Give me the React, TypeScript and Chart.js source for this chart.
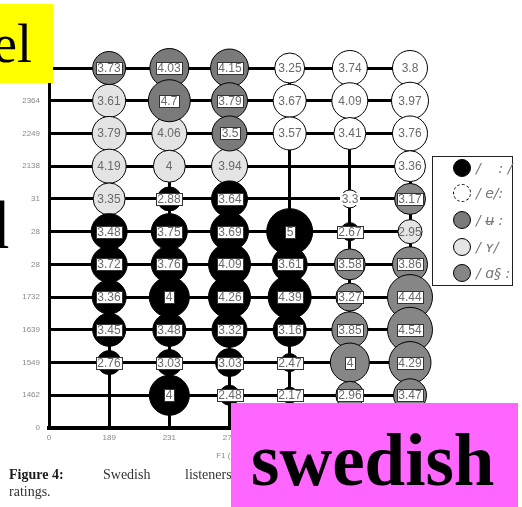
import React, { useEffect, useRef } from "react";
import { Chart, registerables } from "chart.js";

Chart.register(...registerables);

// ---- data ----
const COL_LABELS = ["0", "189", "231", "273", "315", "357", "399"];
const ROW_LABELS = ["0", "1462", "1549", "1639", "1732", "28", "28", "31", "2138", "2249", "2364", "2479"];

const VOWELS = ["/    : /", "/ e/:", "/ ʉ :", "/ ʏ/", "/ ɑ§ :"];
const VOWEL_COLORS = ["#000000", "#ffffff", "#7a7a7a", "#e4e4e4", "#868686"];

// goodness ratings, rows listed from the top row (2479) down to 1462; columns 189..399
const RATINGS: (number | null)[][] = [
  [3.73, 4.03, 4.15, 3.25, 3.74, 3.8],
  [3.61, 4.7, 3.79, 3.67, 4.09, 3.97],
  [3.79, 4.06, 3.5, 3.57, 3.41, 3.76],
  [4.19, 4, 3.94, null, null, 3.36],
  [3.35, 2.88, 3.64, null, 3.3, 3.17],
  [3.48, 3.75, 3.69, 5, 2.67, 2.95],
  [3.72, 3.76, 4.09, 3.61, 3.58, 3.86],
  [3.36, 4, 4.26, 4.39, 3.27, 4.44],
  [3.45, 3.48, 3.32, 3.16, 3.85, 4.54],
  [2.76, 3.03, 3.03, 2.47, 4, 4.29],
  [null, 4, 2.48, 2.17, 2.96, 3.47],
];

// index of the vowel chosen most often (into VOWELS)
const RESPONSE: (number | null)[][] = [
  [2, 2, 2, 1, 1, 1],
  [3, 2, 2, 1, 1, 1],
  [3, 3, 2, 1, 1, 1],
  [3, 3, 3, null, null, 1],
  [3, 0, 0, null, 1, 4],
  [0, 0, 0, 0, 0, 3],
  [0, 0, 0, 0, 4, 4],
  [0, 0, 0, 0, 4, 4],
  [0, 0, 0, 0, 4, 4],
  [0, 0, 0, 0, 4, 4],
  [null, 0, 0, 0, 4, 4],
];

// identification strength (bubble radius)
const SIZES: number[][] = [
  [16.5, 19.5, 19, 15, 17.5, 17.5],
  [16.5, 21, 18, 16.5, 18, 18.5],
  [17, 17.5, 17.5, 16.5, 16, 17.5],
  [17, 16, 18, 0, 0, 15.5],
  [16, 12, 18, 0, 9, 15.5],
  [18, 18, 19, 23, 9, 12],
  [18, 18, 21, 17.5, 15.5, 17.5],
  [17, 20, 21, 21.5, 14, 22.5],
  [16.5, 16.5, 17.5, 16.5, 18, 22.5],
  [12, 13, 14, 9, 19.5, 21],
  [0, 20, 10, 8, 14, 16.5],
];

const LABEL_STYLE = ["box", "bg", "box", "none", "box"];

const bubbleLabels = {
  id: "bubbleLabels",
  afterDatasetsDraw(chart: any) {
    const ctx = chart.ctx;
    ctx.save();
    ctx.font = '12px "Liberation Sans", Arial, sans-serif';
    ctx.textAlign = "center";
    ctx.textBaseline = "middle";
    chart.data.datasets.forEach((ds: any, di: number) => {
      const meta = chart.getDatasetMeta(di);
      meta.data.forEach((el: any, i: number) => {
        const p = ds.data[i];
        const txt = String(p.v);
        const w = Math.round(ctx.measureText(txt).width) + 3;
        const h = 12;
        const x = Math.round(el.x);
        const y = Math.round(el.y);
        const st = ds.labelStyle;
        if (st !== "none") {
          ctx.fillStyle = "#ffffff";
          ctx.fillRect(x - w / 2, y - h / 2, w, h);
          if (st === "box") {
            ctx.strokeStyle = "#333";
            ctx.lineWidth = 1;
            ctx.strokeRect(Math.floor(x - w / 2) + 0.5, y - h / 2 + 0.5, w, h);
          }
        }
        ctx.fillStyle = "#6a6a6a";
        ctx.fillText(txt, x, y + 1);
      });
    });
    ctx.restore();
  },
};

function App() {
  const ref = useRef<HTMLCanvasElement | null>(null);

  useEffect(() => {
    if (!ref.current) return;
    const nRows = RATINGS.length;
    const datasets = VOWELS.map((name, k) => {
      const data: any[] = [];
      RATINGS.forEach((row, ri) =>
        row.forEach((v, ci) => {
          if (v === null || RESPONSE[ri][ci] !== k) return;
          data.push({ x: ci + 1, y: nRows - ri, r: SIZES[ri][ci], v });
        })
      );
      return {
        label: name,
        data,
        backgroundColor: VOWEL_COLORS[k],
        borderColor: "#000",
        borderWidth: 1,
        clip: false as any,
        labelStyle: LABEL_STYLE[k],
      };
    });

    const tickFont = { family: '"Liberation Sans", Arial, sans-serif', size: 8 };
    const chart = new Chart(ref.current, {
      type: "bubble",
      data: { datasets: datasets as any },
      options: {
        responsive: false,
        animation: false,
        devicePixelRatio: 1,
        events: [],
        layout: { padding: { left: 0, top: 68, right: 112, bottom: 0 } },
        plugins: { legend: { display: false }, tooltip: { enabled: false } },
        scales: {
          x: {
            type: "linear",
            min: 0,
            max: COL_LABELS.length - 1,
            afterFit: (s: any) => {
              s.height = 79;
            },
            ticks: {
              stepSize: 1,
              autoSkip: false,
              maxRotation: 0,
              padding: 5,
              color: "#8a8a8a",
              font: tickFont,
              callback: (v: any) => COL_LABELS[v as number] ?? "",
            },
            grid: { color: "#000", lineWidth: 3, drawTicks: false },
            border: { display: true, color: "#000", width: 4 },
            title: {
              display: true,
              text: "F1 (Hz)",
              color: "#8a8a8a",
              font: tickFont,
              padding: { top: 0, bottom: 46 },
            },
          },
          y: {
            type: "linear",
            min: 0,
            max: ROW_LABELS.length - 1,
            afterFit: (s: any) => {
              s.width = 49;
            },
            ticks: {
              stepSize: 1,
              autoSkip: false,
              padding: 9,
              color: "#8a8a8a",
              font: tickFont,
              callback: (v: any) => ROW_LABELS[v as number] ?? "",
            },
            grid: { color: "#000", lineWidth: 3, drawTicks: false },
            border: { display: true, color: "#000", width: 3 },
          },
        },
      } as any,
      plugins: [bubbleLabels],
    });
    return () => chart.destroy();
  }, []);

  const serif = '"Liberation Serif", "Times New Roman", serif';
  const legendY = [168, 193, 220, 247, 273];

  return (
    <div
      style={{
        position: "fixed",
        left: 0,
        top: 0,
        width: 522,
        height: 507,
        background: "#fff",
        overflow: "hidden",
      }}
    >
      <canvas ref={ref} width={522} height={507} style={{ position: "absolute", left: 0, top: 0, width: 522, height: 507 }} />

      {/* legend */}
      <div
        style={{
          position: "absolute",
          left: 432,
          top: 156,
          width: 81,
          height: 130,
          boxSizing: "border-box",
          border: "1.5px solid #222",
          background: "#fff",
        }}
      />
      {VOWELS.map((name, k) => (
        <React.Fragment key={k}>
          <div
            style={{
              position: "absolute",
              left: 453,
              top: legendY[k] - 9,
              width: 18,
              height: 18,
              boxSizing: "border-box",
              borderRadius: "50%",
              border: k === 1 ? "1px dashed #000" : "1px solid #000",
              background: VOWEL_COLORS[k],
            }}
          />
          <div
            style={{
              position: "absolute",
              left: 476,
              top: legendY[k] - 9,
              height: 18,
              lineHeight: "18px",
              fontFamily: '"DejaVu Sans", sans-serif',
              fontStyle: "italic",
              fontSize: 14,
              color: "#777",
              whiteSpace: "pre",
            }}
          >
            {name}
          </div>
        </React.Fragment>
      ))}

      {/* caption */}
      <div style={{ position: "absolute", left: 9, top: 468, fontFamily: serif, fontSize: 14, lineHeight: "14px", color: "#1a1a1a", fontWeight: "bold", whiteSpace: "nowrap" }}>
        Figure 4:
      </div>
      <div style={{ position: "absolute", left: 103, top: 468, fontFamily: serif, fontSize: 14, lineHeight: "14px", color: "#333", whiteSpace: "nowrap" }}>
        Swedish
      </div>
      <div style={{ position: "absolute", left: 185, top: 468, fontFamily: serif, fontSize: 14, lineHeight: "14px", color: "#333", whiteSpace: "nowrap" }}>
        listeners' identification and goodness
      </div>
      <div style={{ position: "absolute", left: 9, top: 485, fontFamily: serif, fontSize: 14, lineHeight: "14px", color: "#333", whiteSpace: "nowrap" }}>
        ratings.
      </div>

      {/* slide overlays */}
      <div style={{ position: "absolute", left: 0, top: 4, width: 53, height: 79, background: "#ffff00", overflow: "hidden" }}>
        <div style={{ position: "absolute", left: -7, top: 13, fontFamily: serif, fontSize: 54, lineHeight: "54px", color: "#000", whiteSpace: "nowrap" }}>
          el
        </div>
      </div>
      <div style={{ position: "absolute", left: -25, top: 191, fontFamily: serif, fontSize: 68, lineHeight: "68px", color: "#000", whiteSpace: "nowrap" }}>
        d
      </div>
      <div style={{ position: "absolute", left: 231, top: 403, width: 287, height: 104, background: "#ff66ff", overflow: "hidden" }}>
        <div style={{ position: "absolute", left: 20, top: 21, fontFamily: serif, fontWeight: "bold", fontSize: 73, lineHeight: "73px", color: "#000", whiteSpace: "nowrap" }}>
          swedish
        </div>
      </div>
    </div>
  );
}

export default App;
